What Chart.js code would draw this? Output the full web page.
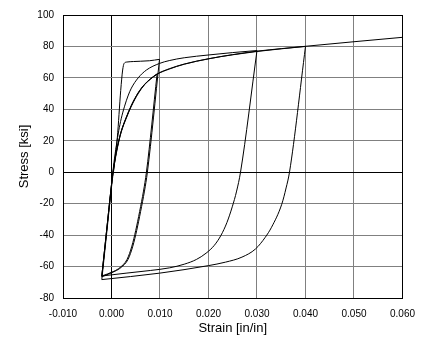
<!DOCTYPE html>
<html>
<head>
<meta charset="utf-8">
<script src="https://cdn.jsdelivr.net/npm/chart.js@4.4.1/dist/chart.umd.min.js"></script>
<style>
  body { margin: 0; background: #fff; }
  canvas { display: block; }
</style>
</head>
<body>
<canvas id="hysteresis" width="425" height="342"></canvas>
<script>
// Axis ticks
const strainTicks = [-0.010, 0.000, 0.010, 0.020, 0.030, 0.040, 0.050, 0.060];
const stressTicks = [-80, -60, -40, -20, 0, 20, 40, 60, 80, 100];

// Branch 1: first loading to 0.010
const load1Strain = [0.0004, 0.0012, 0.0019, 0.0023, 0.0026, 0.0032, 0.0045, 0.0060, 0.0078, 0.0099];
const load1Stress = [0, 22, 52, 65, 69.2, 70.1, 70.4, 70.6, 70.9, 71.8];

// Branch 2: unload to -0.002
const unload1Strain = [0.0099, 0.0074, 0.0068, 0.0060, 0.0052, 0.0044, 0.0034, 0.0020, 0.0007, -0.0020];
const unload1Stress = [71.8, 0, -12, -25, -37, -47, -55.5, -60.5, -63, -66.5];

// Branch 3: reload to 0.010
const load2Strain = [-0.0020, -0.0010, 0.0000, 0.0005, 0.0010, 0.0015, 0.0020, 0.0030, 0.0041, 0.0055, 0.0068, 0.0080, 0.0094];
const load2Stress = [-66.5, -37, -8, 4, 13, 20, 26, 34.5, 42.5, 50.5, 55.8, 59.3, 62.5];

// Branch 4: unload to -0.002
const unload2Strain = [0.0094, 0.0072, 0.0066, 0.0058, 0.0050, 0.0042, 0.0032, 0.0018, 0.0005, -0.0020];
const unload2Stress = [62.5, 0, -12, -25, -37, -47, -55.5, -60.5, -63, -66];

// Branch 5: reload to 0.030
const load3Strain = [-0.0020, -0.0010, 0.0000, 0.0005, 0.0010, 0.0015, 0.0020, 0.0027, 0.0034, 0.0041, 0.0055, 0.0072, 0.0099, 0.0119, 0.0150, 0.0201, 0.0250, 0.0300];
const load3Stress = [-66, -37, -8, 6, 17, 26.5, 34, 42, 48.5, 53.5, 60, 65, 69.2, 71, 72.8, 74.6, 76.1, 77.4];

// Branch 6: unload from 0.030
const unload3Strain = [0.0300, 0.0266, 0.0258, 0.0249, 0.0238, 0.0226, 0.0212, 0.0195, 0.0175, 0.0150, 0.0120, 0.0080, 0.0030, -0.0020];
const unload3Stress = [77.4, 0, -12, -22, -32, -40, -46.5, -51.5, -55.5, -58.5, -60.8, -62.5, -64.2, -66];

// Branch 7: reload to 0.040
const load4Strain = [-0.0020, -0.0010, 0.0000, 0.0005, 0.0010, 0.0015, 0.0020, 0.0030, 0.0041, 0.0055, 0.0068, 0.0080, 0.0094, 0.0119, 0.0150, 0.0201, 0.0250, 0.0300, 0.0350, 0.0400];
const load4Stress = [-66, -37, -8, 4, 13, 20, 26, 34.5, 42.5, 50.5, 55.8, 59.3, 62.5, 65.8, 68.8, 72.2, 74.7, 76.8, 78.5, 80];

// Branch 8: unload from 0.040
const unload4Strain = [0.0400, 0.0367, 0.0360, 0.0351, 0.0330, 0.0317, 0.0297, 0.0269, 0.0235, 0.0200, 0.0099, -0.0020];
const unload4Stress = [80, 0, -10, -20.4, -35, -41.4, -48.8, -54, -57.2, -59.4, -64.2, -68.3];

// Branch 9: final loading to 0.060
const load5Strain = [-0.0020, -0.0010, 0.0000, 0.0005, 0.0010, 0.0015, 0.0020, 0.0030, 0.0041, 0.0055, 0.0068, 0.0080, 0.0094, 0.0119, 0.0150, 0.0201, 0.0250, 0.0300, 0.0350, 0.0400, 0.0500, 0.0600];
const load5Stress = [-68.3, -39, -9.5, 3, 12, 19.5, 25.5, 34, 42, 50, 55.6, 59.1, 62.3, 65.6, 68.7, 72.2, 74.8, 77, 78.6, 80.1, 83, 85.8];

const branches = [
    [load1Strain, load1Stress],
    [unload1Strain, unload1Stress],
    [load2Strain, load2Stress],
    [unload2Strain, unload2Stress],
    [load3Strain, load3Stress],
    [unload3Strain, unload3Stress],
    [load4Strain, load4Stress],
    [unload4Strain, unload4Stress],
    [load5Strain, load5Stress]
];

function toPoints(xs, ys) {
    return xs.map((x, i) => ({ x: x, y: ys[i] }));
}

// Black frame round the plot area (Chart.js only draws left/bottom borders)
const frame = {
    id: 'frame',
    afterDraw(chart) {
        const { ctx, chartArea: a } = chart;
        ctx.save();
        ctx.strokeStyle = '#000';
        ctx.lineWidth = 1;
        ctx.strokeRect(Math.round(a.left) + 0.5, Math.round(a.top) + 0.5,
            Math.round(a.right - a.left), Math.round(a.bottom - a.top));
        ctx.restore();
    }
};

const isZero = v => Math.abs(v) < 1e-9;
const gridColor = ctx => (ctx.tick && isZero(ctx.tick.value)) ? '#000' : '#808080';
const fontFamily = '"Liberation Sans", Arial, sans-serif';

new Chart(document.getElementById('hysteresis').getContext('2d'), {
    type: 'scatter',
    data: {
        datasets: branches.map(b => ({
            data: toPoints(b[0], b[1]),
            showLine: true,
            borderColor: '#000',
            borderWidth: 1,
            pointRadius: 0,
            cubicInterpolationMode: 'monotone',
            fill: false
        }))
    },
    options: {
        responsive: false,
        animation: false,
        devicePixelRatio: 1,
        layout: { padding: { top: 13, right: 20, left: 0, bottom: 0 } },
        plugins: {
            legend: { display: false },
            tooltip: { enabled: false }
        },
        scales: {
            x: {
                type: 'linear',
                min: strainTicks[0],
                max: strainTicks[strainTicks.length - 1],
                afterBuildTicks: scale => { scale.ticks = strainTicks.map(v => ({ value: v })); },
                afterFit: scale => { scale.height = 44; },
                grid: { color: gridColor, lineWidth: 1, drawTicks: false },
                border: { color: '#000' },
                ticks: {
                    padding: 10,
                    color: '#000',
                    font: { family: fontFamily, size: 10 },
                    maxRotation: 0,
                    callback: v => v.toFixed(3)
                },
                title: {
                    display: true,
                    text: 'Strain [in/in]',
                    color: '#000',
                    font: { family: fontFamily, size: 13 },
                    padding: { top: 0, bottom: 6 }
                }
            },
            y: {
                type: 'linear',
                min: stressTicks[0],
                max: stressTicks[stressTicks.length - 1],
                afterBuildTicks: scale => { scale.ticks = stressTicks.map(v => ({ value: v })); },
                afterFit: scale => { scale.width = 63; },
                grid: { color: gridColor, lineWidth: 1, drawTicks: false },
                border: { color: '#000' },
                ticks: {
                    padding: 9,
                    color: '#000',
                    font: { family: fontFamily, size: 10 },
                    callback: v => String(v)
                },
                title: {
                    display: true,
                    text: 'Stress [ksi]',
                    color: '#000',
                    font: { family: fontFamily, size: 13 },
                    padding: { top: 17, bottom: 0 }
                }
            }
        }
    },
    plugins: [frame]
});
</script>
</body>
</html>
